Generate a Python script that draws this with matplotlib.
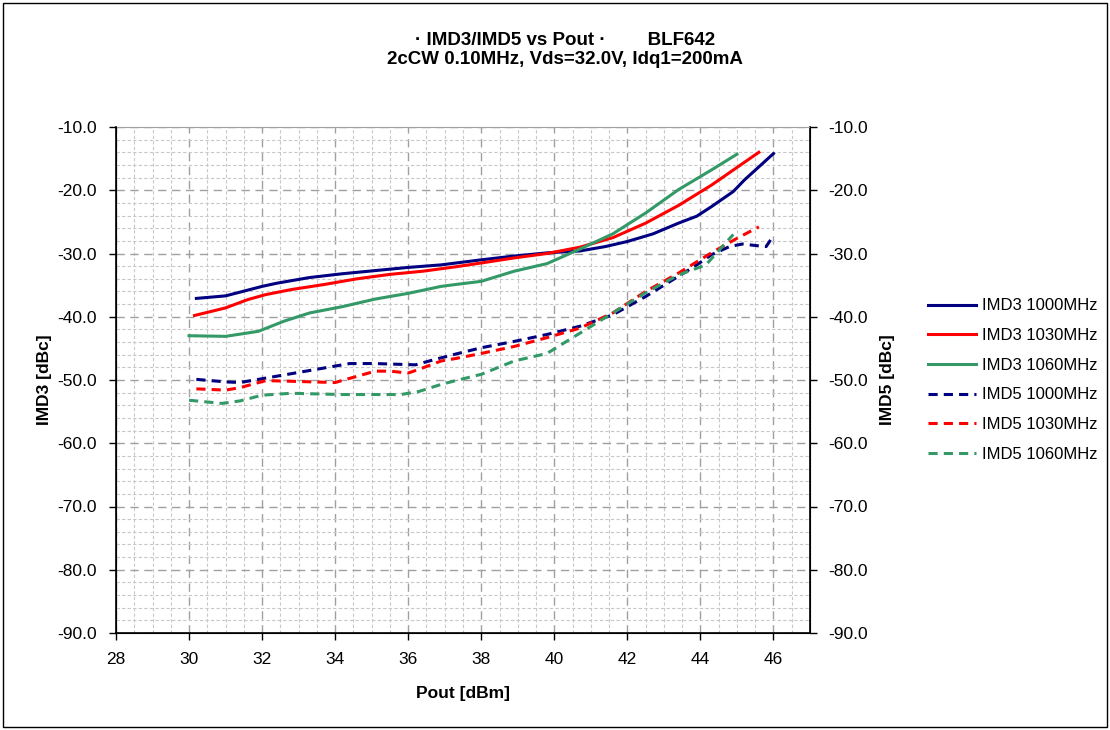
import matplotlib
matplotlib.use("Agg")
import matplotlib.pyplot as plt
from matplotlib.patches import Rectangle
from matplotlib.ticker import MultipleLocator, FormatStrFormatter

plt.rcParams['font.family'] = ['Liberation Sans', 'DejaVu Sans']

# IMD3 curves
x_imd3_1000 = [30.2, 31.0, 31.4, 32.0, 32.4, 33.3, 34.2, 35.1, 36.0, 36.9, 38.0, 38.9, 39.8, 40.7,
               41.4, 42.0, 42.7, 43.4, 43.9, 44.3, 44.9, 45.2, 46.0]
y_imd3_1000 = [-37.1, -36.7, -36.1, -35.2, -34.7, -33.8, -33.2, -32.7, -32.2, -31.8, -31.0, -30.4, -29.9, -29.6,
               -28.9, -28.1, -26.9, -25.2, -24.1, -22.6, -20.2, -18.4, -14.2]
x_imd3_1030 = [30.15, 31.0, 31.6, 32.1, 32.8, 33.7, 34.6, 35.5, 36.4, 37.3, 38.0, 38.9, 39.8, 40.7,
               41.6, 42.5, 43.4, 44.3, 44.9, 45.6]
y_imd3_1030 = [-39.8, -38.6, -37.3, -36.5, -35.7, -34.9, -34.0, -33.3, -32.8, -32.1, -31.5, -30.7, -30.0, -29.0,
               -27.5, -25.2, -22.4, -19.2, -16.8, -14.0]
x_imd3_1060 = [30.0, 31.0, 31.9, 32.6, 33.3, 34.2, 35.1, 36.0, 36.9, 37.3, 38.0, 38.9, 39.8, 40.7,
               41.6, 42.5, 43.4, 44.3, 45.0]
y_imd3_1060 = [-43.0, -43.1, -42.3, -40.7, -39.4, -38.4, -37.2, -36.3, -35.2, -34.9, -34.4, -32.8, -31.6, -29.3,
               -26.9, -23.6, -19.9, -16.8, -14.3]

# IMD5 curves
x_imd5_1000 = [30.2, 31.0, 31.4, 32.0, 32.8, 33.7, 34.4, 35.1, 36.2, 36.7, 37.3, 38.0, 38.9, 39.8, 40.7,
               41.6, 42.5, 43.4, 43.9, 44.3, 44.8, 45.15, 45.6, 45.8, 45.95]
y_imd5_1000 = [-49.9, -50.3, -50.4, -49.8, -49.0, -48.1, -47.4, -47.4, -47.6, -46.8, -45.9, -44.9, -43.9, -42.8, -41.5,
               -39.7, -36.8, -33.6, -31.8, -30.2, -28.9, -28.5, -28.8, -28.9, -27.6]
x_imd5_1030 = [30.2, 31.0, 31.4, 32.1, 32.8, 34.0, 34.3, 35.1, 35.5, 36.0, 36.3, 36.9, 37.3, 38.0, 38.9, 39.8,
               40.7, 41.6, 42.5, 43.4, 44.3, 45.0, 45.6]
y_imd5_1030 = [-51.4, -51.6, -51.2, -50.1, -50.2, -50.4, -49.9, -48.6, -48.6, -48.9, -48.3, -47.0, -46.6, -45.8, -44.7, -43.3,
               -41.8, -39.4, -36.0, -33.1, -29.9, -27.6, -25.8]
x_imd5_1060 = [30.0, 30.9, 31.4, 32.0, 32.8, 34.2, 35.8, 36.3, 36.9, 37.3, 38.0, 38.9, 39.8, 40.7,
               41.6, 42.5, 43.4, 44.15, 44.6, 44.9]
y_imd5_1060 = [-53.2, -53.7, -53.3, -52.4, -52.1, -52.3, -52.3, -51.8, -50.7, -50.1, -49.1, -47.0, -45.8, -42.6,
               -39.4, -36.2, -33.4, -31.8, -28.9, -27.0]

navy = '#000080'
red = '#ff0000'
green = '#339966'
dash = (0, (3, 2))

fig = plt.figure(figsize=(11.1, 7.3), dpi=100)
ax = fig.add_axes([116 / 1110, 1 - 633 / 730, 694 / 1110, 506 / 730])

ax.plot(x_imd3_1000, y_imd3_1000, color=navy, lw=2.2, label='IMD3 1000MHz')
ax.plot(x_imd3_1030, y_imd3_1030, color=red, lw=2.2, label='IMD3 1030MHz')
ax.plot(x_imd3_1060, y_imd3_1060, color=green, lw=2.2, label='IMD3 1060MHz')
ax.plot(x_imd5_1000, y_imd5_1000, color=navy, lw=2.2, ls=dash, label='IMD5 1000MHz')
ax.plot(x_imd5_1030, y_imd5_1030, color=red, lw=2.2, ls=dash, label='IMD5 1030MHz')
ax.plot(x_imd5_1060, y_imd5_1060, color=green, lw=2.2, ls=dash, label='IMD5 1060MHz')

ax.set_xlim(28, 47)
ax.set_ylim(-90, -10)
ax.set_xticks(range(28, 47, 2))
ax.xaxis.set_minor_locator(MultipleLocator(0.5))
ax.yaxis.set_major_locator(MultipleLocator(10))
ax.yaxis.set_minor_locator(MultipleLocator(2))
ax.yaxis.set_major_formatter(FormatStrFormatter('%.1f'))
ax.grid(which='major', color='#a0a0a0', ls=(0, (6, 4)), lw=1)
ax.grid(which='minor', color='#c8c8c8', ls=(0, (3, 2)), lw=0.8)
ax.set_axisbelow(True)
ax.tick_params(which='minor', length=0)
ax.tick_params(which='major', direction='out', length=5, width=1, labelsize=12.5, pad=9)
ax.spines['top'].set_color('#a0a0a0')
for s in ['left', 'bottom', 'right']:
    ax.spines[s].set_linewidth(1.2)

ax.set_xlabel('Pout [dBm]', fontsize=12.5, fontweight='bold', va='center')
ax.xaxis.set_label_coords(0.5, -0.1186)
ax.set_ylabel('IMD3 [dBc]', fontsize=12.5, fontweight='bold', va='center')
ax.yaxis.set_label_coords(-0.1037, 0.5)

ax2 = ax.twinx()
ax2.set_ylim(-90, -10)
ax2.yaxis.set_major_locator(MultipleLocator(10))
ax2.yaxis.set_major_formatter(FormatStrFormatter('%.1f'))
ax2.tick_params(direction='out', length=5, width=1, labelsize=12.5, pad=8)
ax2.spines['top'].set_visible(False)
ax2.set_ylabel('IMD5 [dBc]', fontsize=12.5, fontweight='bold', rotation=90, va='center')
ax2.yaxis.set_label_coords(1.112, 0.5)

fig.text(565 / 1110, 1 - 40.5 / 730, '\u00b7 IMD3/IMD5 vs Pout \u00b7        BLF642', ha='center', va='center',
         fontsize=13.5, fontweight='bold')
fig.text(565 / 1110, 1 - 59.5 / 730, '2cCW 0.10MHz, Vds=32.0V, Idq1=200mA', ha='center', va='center',
         fontsize=13.5, fontweight='bold')

handles, labels = ax.get_legend_handles_labels()
fig.legend(handles, labels, loc='center left', bbox_to_anchor=(928 / 1110, 1 - 380 / 730),
           frameon=False, fontsize=12, handlelength=2.9, labelspacing=0.88, handletextpad=0.36,
           borderpad=0, borderaxespad=0)

fig.patches.append(Rectangle((3 / 1110, 3 / 730), 1104 / 1110, 724 / 730, transform=fig.transFigure,
                             fill=False, edgecolor='black', lw=1))

fig.savefig('out.png', dpi=100)
